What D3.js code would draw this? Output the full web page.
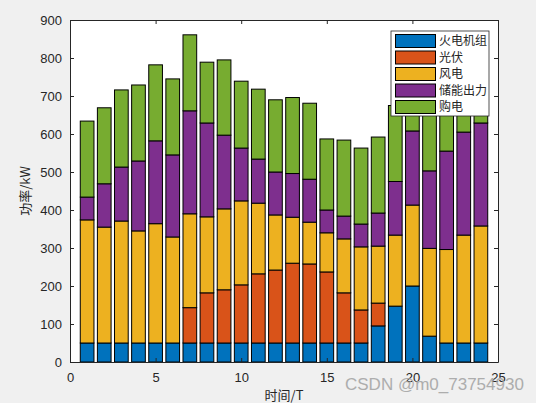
<!DOCTYPE html>
<html><head><meta charset="utf-8">
<script src="https://cdn.jsdelivr.net/npm/d3@7"></script>
<style>
html,body{margin:0;padding:0;background:#f0f0f0;}
svg{display:block;}
</style></head>
<body>
<svg id="chart" width="536" height="403"></svg>
<script>
const hours = d3.range(1, 25);
const seriesNames = ["火电机组", "光伏", "风电", "储能出力", "购电"];
const coal   = [50,50,50,50,50,50,50,50,50,50,50,50,50,50,50,50,50,95,147,200,68,50,50,50];
const pv     = [0,0,0,0,0,0,93,132,140,153,182,192,210,208,187,132,87,60,0,0,0,0,0,0];
const wind   = [324,305,321,295,314,279,247,200,213,221,186,145,121,110,103,142,166,150,187,213,231,246,284,308];
const storage= [60,114,142,184,218,216,271,247,194,139,116,113,115,113,60,60,60,87,141,195,204,259,271,271];
const grid   = [200,200,203,200,200,200,200,160,198,176,184,190,200,200,187,200,200,200,200,200,200,200,200,200];
const xTicks = [0,5,10,15,20,25];
const yTicks = [0,100,200,300,400,500,600,700,800,900];
const colors = ["#0072BD","#D95319","#EDB120","#7E2F8E","#77AC30"];

const allSeries = [coal, pv, wind, storage, grid];
const rows = hours.map((h, i) => {
  const r = {hour: h};
  seriesNames.forEach((n, k) => r[n] = allSeries[k][i]);
  return r;
});
const stacked = d3.stack().keys(seriesNames)(rows);

const svg = d3.select("#chart");
const L = 70, R = 498, T = 20, B = 362;
const x = d3.scaleLinear().domain([0, 25]).range([L, R]);
const y = d3.scaleLinear().domain([0, 900]).range([B, T]);
const font = "'Liberation Sans', Arial, Helvetica, sans-serif";
const cjk = "'Noto Sans CJK SC', 'Noto Sans', sans-serif";
const axisColor = "#262626";

svg.append("rect").attr("x", L).attr("y", T).attr("width", R - L).attr("height", B - T).attr("fill", "#fff");

const bw = 0.8;
stacked.forEach((layer, k) => {
  svg.append("g").selectAll("rect").data(layer).join("rect")
    .attr("x", d => x(d.data.hour - bw / 2))
    .attr("width", x(bw) - x(0))
    .attr("y", d => y(d[1]))
    .attr("height", d => Math.max(0, y(d[0]) - y(d[1])))
    .attr("fill", colors[k])
    .attr("stroke", d => (d[1] - d[0]) > 0 ? "#000" : "none")
    .attr("stroke-width", 1);
});

function styleAxis(g) {
  g.selectAll("path").attr("stroke", axisColor);
  g.selectAll("line").attr("stroke", axisColor);
  g.selectAll("text").attr("fill", axisColor).style("font-family", font).style("font-size", "13px");
}
svg.append("g").attr("transform", `translate(0,${B})`)
  .call(d3.axisBottom(x).tickValues(xTicks).tickSizeInner(-4).tickSizeOuter(0).tickPadding(11))
  .call(styleAxis);
svg.append("g").attr("transform", `translate(0,${T})`)
  .call(d3.axisTop(x).tickValues(xTicks).tickSizeInner(-4).tickSizeOuter(0).tickFormat(""))
  .call(styleAxis);
svg.append("g").attr("transform", `translate(${L},0)`)
  .call(d3.axisLeft(y).tickValues(yTicks).tickSizeInner(-4).tickSizeOuter(0).tickPadding(8))
  .call(styleAxis);
svg.append("g").attr("transform", `translate(${R},0)`)
  .call(d3.axisRight(y).tickValues(yTicks).tickSizeInner(-4).tickSizeOuter(0).tickFormat(""))
  .call(styleAxis);

svg.append("text").attr("x", (L + R) / 2).attr("y", 400).attr("text-anchor", "middle")
  .style("font-family", cjk).style("font-size", "13px").attr("fill", axisColor).text("时间/T");
svg.append("text").attr("transform", `translate(30,${(T + B) / 2}) rotate(-90)`).attr("text-anchor", "middle")
  .style("font-family", cjk).style("font-size", "13px").attr("fill", axisColor).text("功率/kW");

// legend
const lg = svg.append("g");
lg.append("rect").attr("x", 391).attr("y", 31).attr("width", 98).attr("height", 85)
  .attr("fill", "#fff").attr("stroke", axisColor).attr("stroke-width", 0.8);
seriesNames.forEach((n, k) => {
  const cy = 41 + k * 16.5;
  lg.append("rect").attr("x", 395.5).attr("y", cy - 6.5).attr("width", 40).attr("height", 13)
    .attr("fill", colors[k]).attr("stroke", "#000").attr("stroke-width", 1);
  lg.append("text").attr("x", 439).attr("y", cy + 4.2)
    .style("font-family", cjk).style("font-size", "12px").attr("fill", axisColor).text(n);
});

// watermark
svg.append("text").attr("x", 345).attr("y", 390)
  .style("font-family", font).style("font-size", "17px").attr("fill", "#a6a6a6").attr("opacity", 0.9)
  .text("CSDN @m0_73754930");
</script>
</body></html>
